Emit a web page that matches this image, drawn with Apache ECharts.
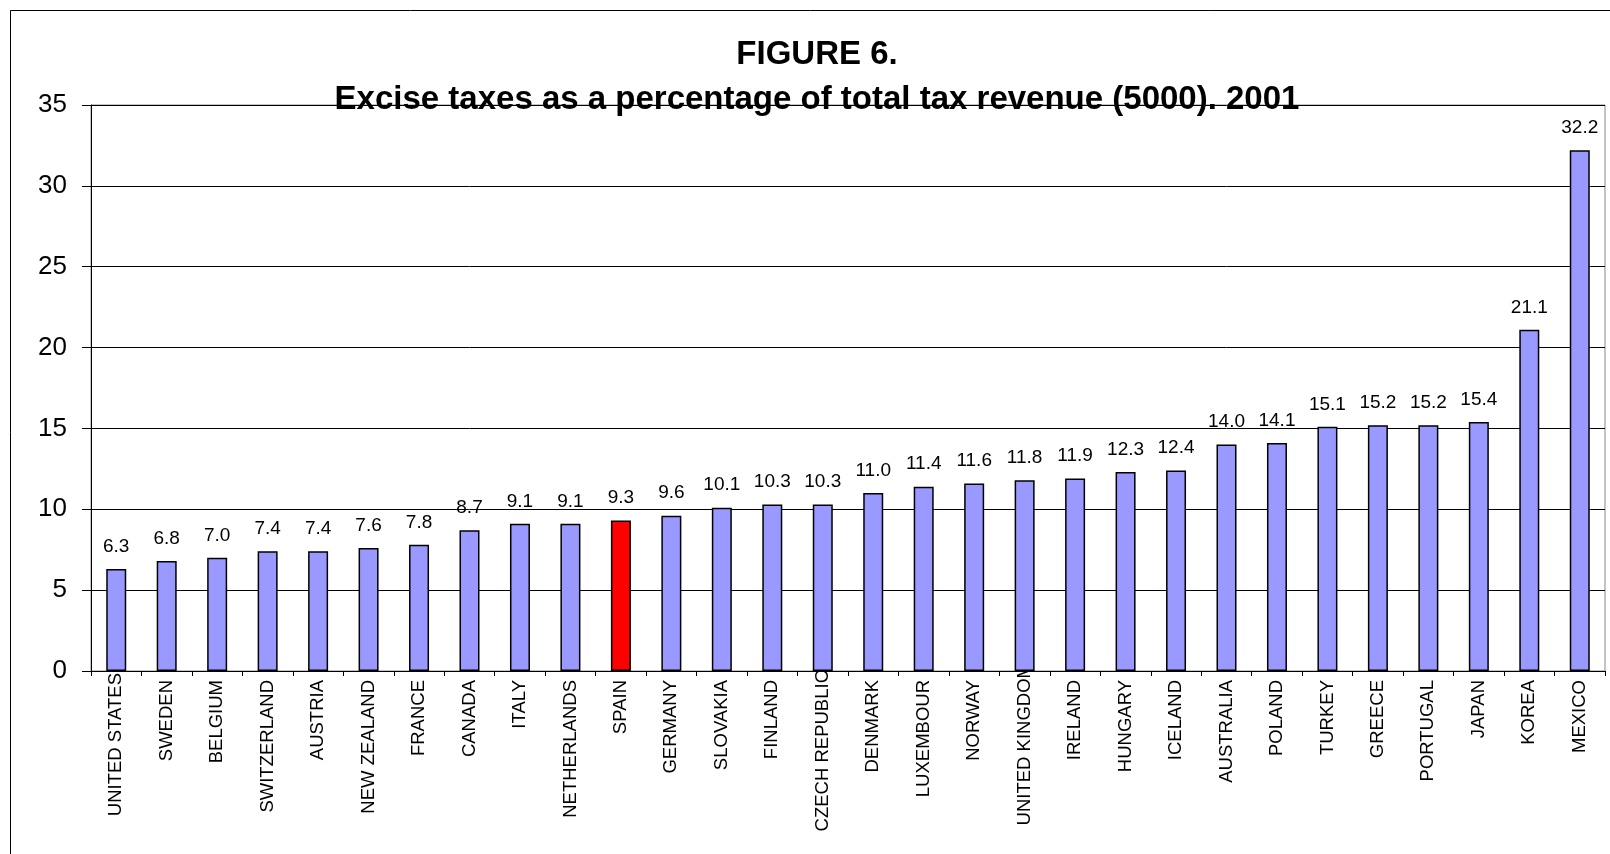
<!DOCTYPE html>
<html>
<head>
<meta charset="utf-8">
<title>Excise taxes as a percentage of total tax revenue (5000). 2001</title>
<script src="https://cdn.jsdelivr.net/npm/echarts@6/dist/echarts.min.js"></script>
<style>
  html, body { margin: 0; padding: 0; background: #ffffff; }
  #chart { width: 1610px; height: 854px; }
</style>
</head>
<body>
<div id="chart"></div>
<script>
// Countries, ordered from lowest to highest share
const countries = [
  'UNITED STATES', 'SWEDEN', 'BELGIUM', 'SWITZERLAND', 'AUSTRIA', 'NEW ZEALAND',
  'FRANCE', 'CANADA', 'ITALY', 'NETHERLANDS', 'SPAIN', 'GERMANY', 'SLOVAKIA',
  'FINLAND', 'CZECH REPUBLIC', 'DENMARK', 'LUXEMBOUR', 'NORWAY', 'UNITED KINGDOM',
  'IRELAND', 'HUNGARY', 'ICELAND', 'AUSTRALIA', 'POLAND', 'TURKEY', 'GREECE',
  'PORTUGAL', 'JAPAN', 'KOREA', 'MEXICO'
];

// Excise taxes, % of total tax revenue
const exciseShare = [
  6.3, 6.8, 7.0, 7.4, 7.4, 7.6,
  7.8, 8.7, 9.1, 9.1, 9.3, 9.6, 10.1,
  10.3, 10.3, 11.0, 11.4, 11.6, 11.8,
  11.9, 12.3, 12.4, 14.0, 14.1, 15.1, 15.2,
  15.2, 15.4, 21.1, 32.2
];

const yTicks = [0, 5, 10, 15, 20, 25, 30, 35];

const highlighted = 'SPAIN';

// Long names sit higher on the axis
const labelLift = { 'UNITED STATES': 7, 'CZECH REPUBLIC': 10, 'UNITED KINGDOM': 17 };

const FONT = '"Liberation Sans", Arial, Helvetica, sans-serif';

const categoryData = countries.map(name => {
  const lift = labelLift[name];
  return lift ? { value: name, textStyle: { padding: [0, -lift, 0, 0] } } : name;
});

const barData = countries.map((name, i) => ({
  value: exciseShare[i],
  itemStyle: { color: name === highlighted ? '#FF0000' : '#9999FF' }
}));

const chart = echarts.init(document.getElementById('chart'), null, { renderer: 'canvas' });

chart.setOption({
  animation: false,
  backgroundColor: '#ffffff',
  textStyle: { fontFamily: FONT },
  graphic: [
    {
      type: 'rect',
      shape: { x: 10.5, y: 10.5, width: 1660, height: 900 },
      style: { fill: 'none', stroke: '#000000', lineWidth: 1 },
      silent: true
    },
    {
      type: 'text',
      x: 817, y: 55,
      style: {
        text: 'FIGURE 6.',
        font: 'bold 33px ' + FONT,
        fill: '#000000',
        align: 'center',
        verticalAlign: 'middle'
      }
    },
    {
      type: 'text',
      x: 817, y: 100,
      z: 10,
      style: {
        text: 'Excise taxes as a percentage of total tax revenue (5000). 2001',
        font: 'bold 33px ' + FONT,
        fill: '#000000',
        align: 'center',
        verticalAlign: 'middle'
      }
    }
  ],
  grid: {
    left: 91,
    right: 5,
    top: 105,
    bottom: 183,
    show: true,
    borderColor: '#888888',
    borderWidth: 1,
    containLabel: false
  },
  xAxis: {
    type: 'category',
    data: categoryData,
    axisLine: { show: true, lineStyle: { color: '#000000', width: 1 } },
    axisTick: { show: true, length: 5, lineStyle: { color: '#000000' } },
    axisLabel: {
      interval: 0,
      rotate: 90,
      margin: 9,
      fontSize: 18.5,
      color: '#000000',
      fontFamily: FONT
    }
  },
  yAxis: {
    type: 'value',
    min: yTicks[0],
    max: yTicks[yTicks.length - 1],
    interval: 5,
    axisLine: { show: true, lineStyle: { color: '#000000', width: 1 } },
    axisTick: { show: true, inside: false, length: 9, lineStyle: { color: '#000000' } },
    axisLabel: {
      margin: 24,
      fontSize: 26,
      color: '#000000',
      fontFamily: FONT
    },
    splitLine: { show: true, lineStyle: { color: '#000000', width: 1 } }
  },
  series: [
    {
      type: 'bar',
      data: barData,
      barWidth: 20,
      itemStyle: { borderColor: '#000000', borderWidth: 1.5 },
      label: {
        show: true,
        position: 'top',
        distance: 13,
        fontSize: 19,
        color: '#000000',
        fontFamily: FONT,
        formatter: p => p.value.toFixed(1)
      }
    }
  ]
});
</script>
</body>
</html>
